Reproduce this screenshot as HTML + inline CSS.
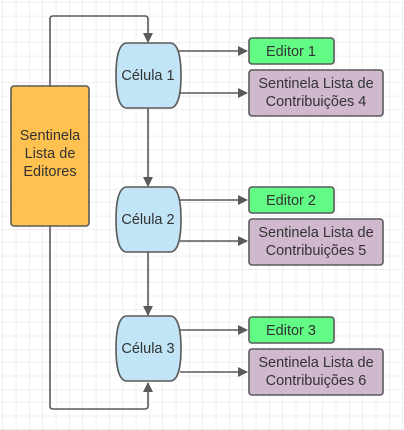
<!DOCTYPE html>
<html><head><meta charset="utf-8"><style>
html,body{margin:0;padding:0;background:#fff}
svg{display:block}
text{font-family:"Liberation Sans",sans-serif;font-size:14.5px;fill:#333;text-anchor:middle}
</style></head><body>
<svg width="404" height="430" viewBox="0 0 404 430" xmlns="http://www.w3.org/2000/svg">
<defs>
<pattern id="g" width="13.33" height="13.33" patternUnits="userSpaceOnUse" x="3" y="3">
<path d="M13.33 0V13.33H0" fill="none" stroke="#e2e2e2" stroke-width="1"/>
</pattern>
<marker id="a" markerWidth="10" markerHeight="10" refX="9" refY="5" orient="auto" markerUnits="userSpaceOnUse">
<path d="M0,0 L10,5 L0,10 Z" fill="#5a5a5a"/>
</marker>
</defs>
<rect width="404" height="430" fill="url(#g)"/>
<g stroke="#5a5a5a" stroke-width="1.6" fill="none">
<path d="M50,86 V19 Q50,16 53,16 H145 Q148,16 148,19 V42" marker-end="url(#a)"/>
<path d="M50,226 V406 Q50,409 53,409 H145 Q148,409 148,406 V383" marker-end="url(#a)"/>
<path d="M148,108 V186" marker-end="url(#a)"/>
<path d="M148,252 V315" marker-end="url(#a)"/>
<path d="M178,51 H247" marker-end="url(#a)"/>
<path d="M180,93 H247" marker-end="url(#a)"/>
<path d="M178,200 H247" marker-end="url(#a)"/>
<path d="M180,241 H247" marker-end="url(#a)"/>
<path d="M178,330 H247" marker-end="url(#a)"/>
<path d="M180,372 H247" marker-end="url(#a)"/>
</g>
<rect x="11" y="86" width="78" height="140" rx="3" fill="#ffc150" stroke="#5a5a5a" stroke-width="1.6"/>
<text x="50" y="140">Sentinela</text><text x="50" y="158">Lista de</text><text x="50" y="176">Editores</text>
<g fill="#c1e4f6" stroke="#5a5a5a" stroke-width="1.6">
<path d="M127,43 H170 C178,43 181,57 181,75.5 C181,94 178,108 170,108 H127 C119,108 116,94 116,75.5 C116,57 119,43 127,43Z"/>
<path transform="translate(0,144)" d="M127,43 H170 C178,43 181,57 181,75.5 C181,94 178,108 170,108 H127 C119,108 116,94 116,75.5 C116,57 119,43 127,43Z"/>
<path transform="translate(0,273)" d="M127,43 H170 C178,43 181,57 181,75.5 C181,94 178,108 170,108 H127 C119,108 116,94 116,75.5 C116,57 119,43 127,43Z"/>
</g>
<text x="148" y="80">Célula 1</text>
<text x="148" y="224">Célula 2</text>
<text x="148" y="353">Célula 3</text>
<g stroke="#5a5a5a" stroke-width="1.6">
<rect x="249" y="38" width="85" height="26" rx="3" fill="#62fb86"/>
<rect x="249" y="70" width="134" height="46" rx="3" fill="#d0b9cf"/>
<rect x="249" y="187" width="85" height="26" rx="3" fill="#62fb86"/>
<rect x="249" y="219" width="134" height="46" rx="3" fill="#d0b9cf"/>
<rect x="249" y="317" width="85" height="26" rx="3" fill="#62fb86"/>
<rect x="249" y="349" width="134" height="46" rx="3" fill="#d0b9cf"/>
</g>
<text x="291" y="56">Editor 1</text>
<text x="316" y="88">Sentinela Lista de</text><text x="316" y="106">Contribuições 4</text>
<text x="291" y="205">Editor 2</text>
<text x="316" y="237">Sentinela Lista de</text><text x="316" y="255">Contribuições 5</text>
<text x="291" y="335">Editor 3</text>
<text x="316" y="367">Sentinela Lista de</text><text x="316" y="385">Contribuições 6</text>
</svg>
</body></html>
